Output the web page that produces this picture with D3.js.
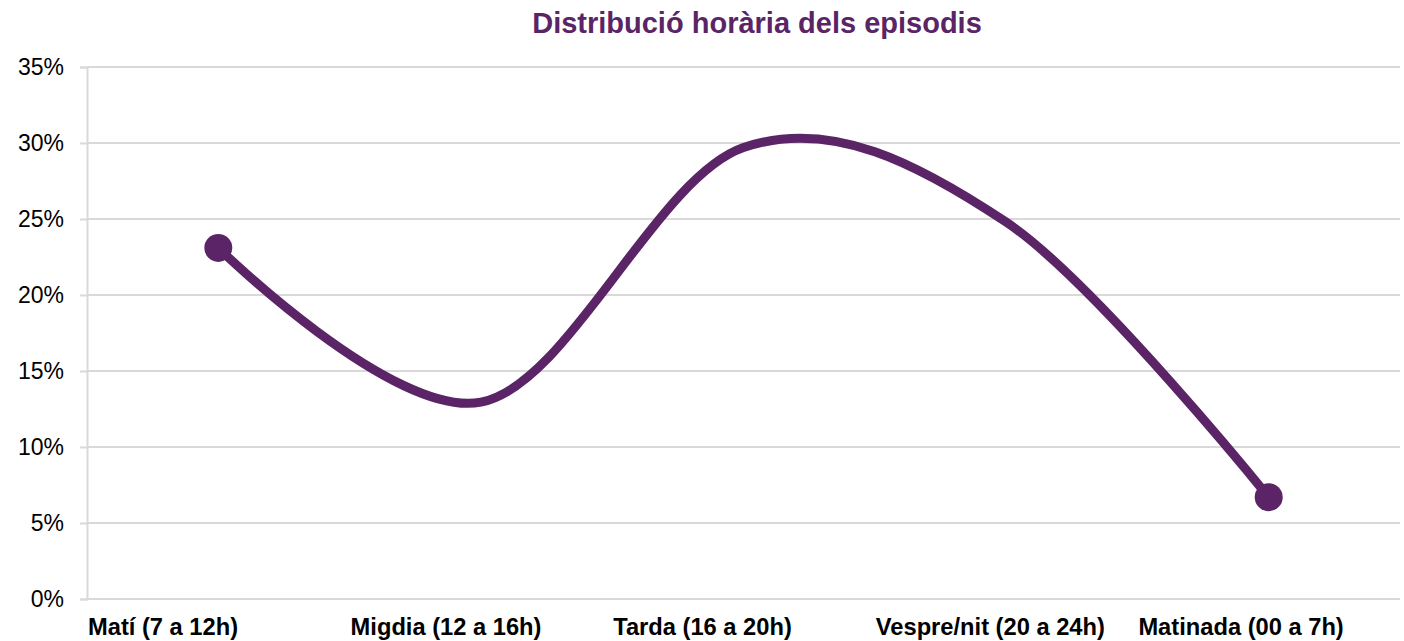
<!DOCTYPE html>
<html><head><meta charset="utf-8">
<script src="https://cdn.jsdelivr.net/npm/d3@7"></script>
<style>body{margin:0;background:#fff}svg{display:block}</style>
</head><body>
<svg id="c" width="1404" height="641"></svg>
<script>
const title = "Distribució horària dels episodis";
const categories = ["Matí (7 a 12h)", "Migdia (12 a 16h)", "Tarda (16 a 20h)", "Vespre/nit (20 a 24h)", "Matinada (00 a 7h)"];
const values = [23.1, 12.95, 29.7, 24.8, 6.7];
const yTicks = [0, 5, 10, 15, 20, 25, 30, 35];

const W = 1404, H = 641;
const m = {left: 87, right: 4, top: 67, bottom: 42};
const svg = d3.select("#c");
const purple = "#5a2466";
const grid = "#d9d9d9";

const x = d3.scaleBand().domain(categories).range([m.left, W - m.right]).padding(0);
const y = d3.scaleLinear().domain([0, 35]).range([H - m.bottom, m.top]);

const yAxis = d3.axisLeft(y).tickValues(yTicks).tickFormat(d => d + "%").tickSize(7).tickPadding(16);
const gy = svg.append("g").attr("transform", `translate(${m.left},0)`).call(yAxis);
gy.select(".domain").attr("stroke", grid).attr("stroke-width", 2);
gy.selectAll(".tick line").attr("stroke", grid).attr("stroke-width", 2);
gy.selectAll(".tick text").attr("font-family", "Liberation Sans, Arial, sans-serif").attr("font-size", 23).attr("fill", "#000");

svg.append("g").selectAll("line").data(yTicks).join("line")
  .attr("x1", m.left).attr("x2", W - m.right)
  .attr("y1", d => y(d)).attr("y2", d => y(d))
  .attr("stroke", grid).attr("stroke-width", 2);

svg.append("g").selectAll("text").data(categories).join("text")
  .attr("x", d => x(d) + 1).attr("y", 635)
  .attr("font-family", "Liberation Sans, Arial, sans-serif").attr("font-size", 23.7).attr("font-weight", "bold")
  .attr("fill", "#000").text(d => d);

const pts = categories.map((c, i) => [x(c) + x.bandwidth() / 2, y(values[i])]);
svg.append("path").attr("d", d3.line().curve(d3.curveCardinal.tension(0))(pts))
  .attr("fill", "none").attr("stroke", purple).attr("stroke-width", 9).attr("stroke-linecap", "round");

svg.append("g").selectAll("circle").data([0, values.length - 1]).join("circle")
  .attr("cx", i => pts[i][0]).attr("cy", i => pts[i][1]).attr("r", 14).attr("fill", purple);

svg.append("text").attr("x", 757).attr("y", 33).attr("text-anchor", "middle")
  .attr("font-family", "Liberation Sans, Arial, sans-serif").attr("font-size", 29).attr("font-weight", "bold")
  .attr("fill", purple).text(title);
</script>
</body></html>
